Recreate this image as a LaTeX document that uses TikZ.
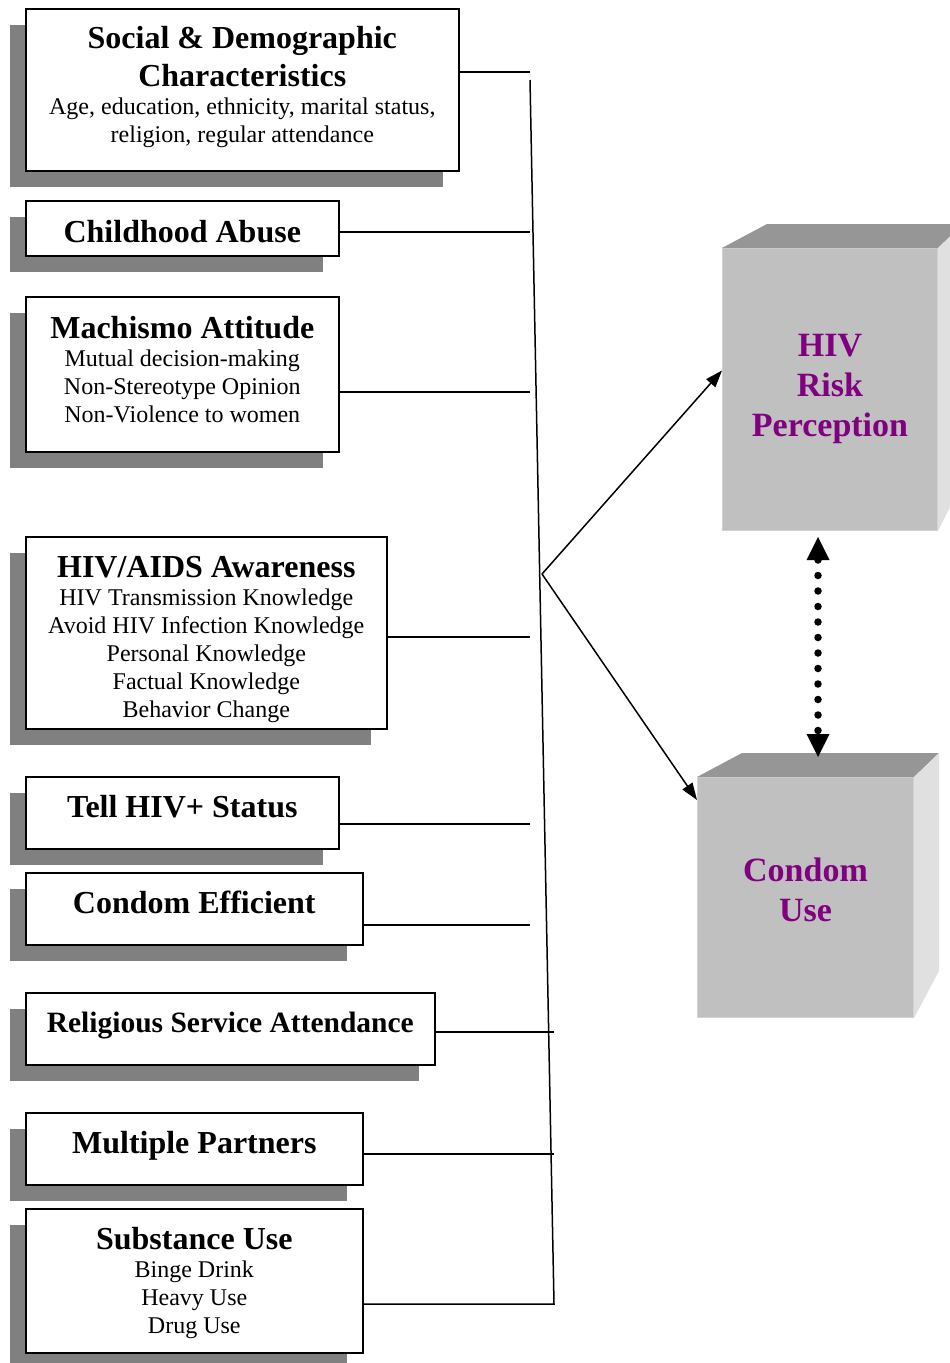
\documentclass[tikz,border=0pt]{standalone}
\usepackage{fontspec}
\setmainfont{Liberation Serif}
\usetikzlibrary{arrows.meta,shadows}
\definecolor{shd}{HTML}{808080}
\definecolor{frontc}{HTML}{C0C0C0}
\definecolor{topc}{HTML}{969696}
\definecolor{sidec}{HTML}{E0E0E0}
\definecolor{edgec}{HTML}{D2D2D2}
\definecolor{purp}{HTML}{800080}
\newcommand\ttl[1]{{\fontsize{32}{36}\selectfont\bfseries #1}}
\begin{document}
\begin{tikzpicture}[x=1pt,y=-1pt,
  box/.style={draw=black, line width=1.6pt, fill=white, anchor=north west,
    inner sep=0pt,
    drop shadow={shadow xshift=-15.5pt, shadow yshift=-16pt, fill=shd, opacity=1}},
  txt/.style={inner sep=0pt, align=center, font=\fontsize{24}{28}\selectfont},
  conn/.style={draw=black, line width=1.5pt},
  face/.style={fill=frontc, draw=edgec, line width=1pt, anchor=north west, inner sep=0pt},
  facetxt/.style={inner sep=0pt, align=center, text=purp,
    font=\fontsize{34}{40}\selectfont\bfseries},
  arr/.style={conn, -{Triangle[length=17pt,width=12pt]}}]
\useasboundingbox (0,0) rectangle (950,1363);

% left boxes
\node[box, minimum width=433, minimum height=162] (b1) at (25,8) {};
\node[txt] (b1t) at ([yshift=2.5pt]b1.center)
  {\ttl{Social \& Demographic}\\[8pt]\ttl{Characteristics}\\Age, education, ethnicity, marital status,\\religion, regular attendance};
\node[box, minimum width=313, minimum height=55] (b2) at (25,200) {};
\node[txt] (b2t) at ([yshift=-3pt]b2.center) {\ttl{Childhood Abuse}};
\node[box, minimum width=313, minimum height=155] (b3) at (25,296) {};
\node[txt] (b3t) at ([yshift=5pt]b3.center)
  {\ttl{Machismo Attitude}\\Mutual decision-making\\Non-Stereotype Opinion\\Non-Violence to women};
\node[box, minimum width=361, minimum height=192] (b4) at (25,536) {};
\node[txt] (b4t) at ([yshift=-6.5pt]b4.center)
  {\ttl{HIV/AIDS Awareness}\\HIV Transmission Knowledge\\Avoid HIV Infection Knowledge\\Personal Knowledge\\Factual Knowledge\\Behavior Change};
\node[box, minimum width=313, minimum height=72] (b5) at (25,776) {};
\node[txt] (b5t) at ([yshift=6pt]b5.center) {\ttl{Tell HIV+ Status}};
\node[box, minimum width=337, minimum height=72] (b6) at (25,872) {};
\node[txt] (b6t) at ([yshift=6pt]b6.center) {\ttl{Condom Efficient}};
\node[box, minimum width=409, minimum height=72] (b7) at (25,992) {};
\node[txt] (b7t) at ([yshift=3pt]b7.center) {{\fontsize{29.5}{34}\selectfont\bfseries Religious Service Attendance}};
\node[box, minimum width=337, minimum height=72] (b8) at (25,1112) {};
\node[txt] (b8t) at ([yshift=3pt]b8.center) {\ttl{Multiple Partners}};
\node[box, minimum width=337, minimum height=144] (b9) at (25,1208) {};
\node[txt] (b9t) at ([yshift=-2.5pt]b9.center)
  {\ttl{Substance Use}\\Binge Drink\\Heavy Use\\Drug Use};

% connector ends
\coordinate (t1) at (530,72);
\coordinate (t2) at (530,232);
\coordinate (t3) at (530,392);
\coordinate (t4) at (530,637);
\coordinate (t5) at (530,824);
\coordinate (t6) at (530,925);
\coordinate (t7) at (554,1032);
\coordinate (t8) at (554,1154);
\coordinate (ttop) at (530,80);
\coordinate (tbot) at (554,1304);
\coordinate (br) at (542,574);

\draw[conn] (b1.east |- t1) -- (t1);
\draw[conn] (b2.east |- t2) -- (t2);
\draw[conn] (b3.east |- t3) -- (t3);
\draw[conn] (b4.east |- t4) -- (t4);
\draw[conn] (b5.east |- t5) -- (t5);
\draw[conn] (b6.east |- t6) -- (t6);
\draw[conn] (b7.east |- t7) -- (t7);
\draw[conn] (b8.east |- t8) -- (t8);
\draw[conn] (b9.east |- tbot) -- (tbot) -- (ttop);

% 3D boxes
\node[face, minimum width=215, minimum height=282] (hiv) at (722,248) {};
\fill[topc] (hiv.north west) -- ++(45,-24) -- ([shift={(25,-24)}]hiv.north east) -- (hiv.north east) -- cycle;
\fill[sidec] (hiv.north east) -- ++(25,-24) -- ([shift={(25,-50)}]hiv.south east) -- (hiv.south east) -- cycle;
\node[facetxt] (hivt) at ([yshift=1pt]hiv.center) {HIV\\Risk\\Perception};

\node[face, minimum width=216, minimum height=240] (cu) at (697,777) {};
\fill[topc] (cu.north west) -- ++(45,-24) -- ([shift={(25,-24)}]cu.north east) -- (cu.north east) -- cycle;
\fill[sidec] (cu.north east) -- ++(25,-24) -- ([shift={(25,-47)}]cu.south east) -- (cu.south east) -- cycle;
\node[facetxt] (cut) at ([yshift=8pt]cu.center) {Condom\\Use};

% arrows
\draw[arr] (br) -- ([yshift=19pt]hiv.west);
\draw[arr] (br) -- ([yshift=-23pt]cu.north west);

\coordinate (d1) at (818,537);
\coordinate (d2) at (818,757);
\draw[line width=7.5pt, line cap=round, dash pattern=on 0pt off 15.5pt,
  {Triangle[length=23pt,width=23pt,line width=0pt]}-{Triangle[length=23pt,width=23pt,line width=0pt]}] (d1) -- (d2);
\end{tikzpicture}
\end{document}
